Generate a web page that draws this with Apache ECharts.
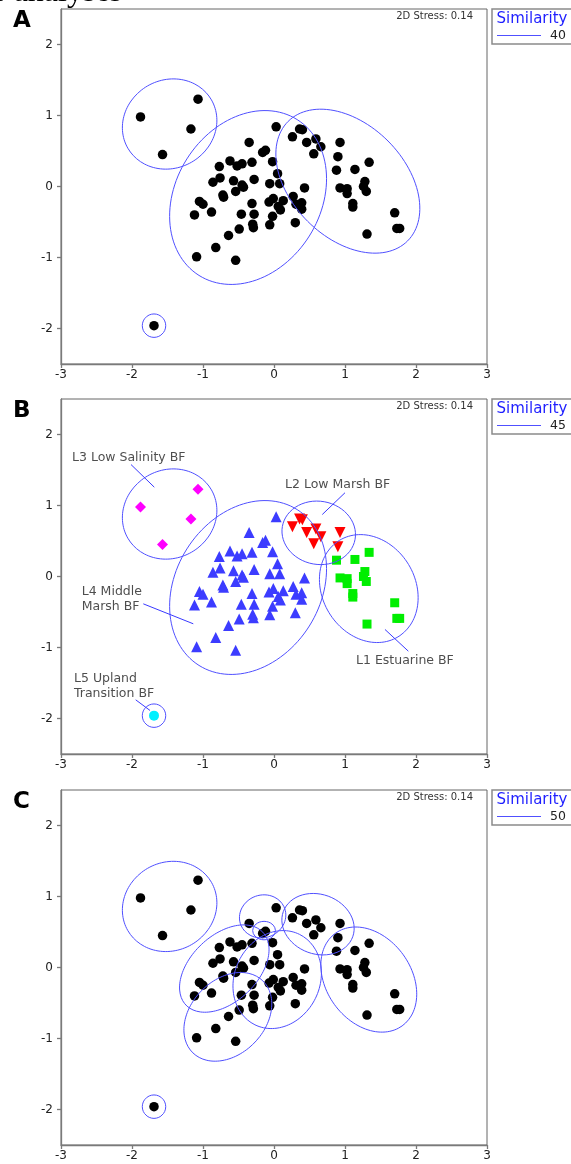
<!DOCTYPE html>
<html><head><meta charset="utf-8">
<script src="https://cdn.jsdelivr.net/npm/echarts@6/dist/echarts.min.js"></script>
<style>html,body{margin:0;padding:0;background:#fff;overflow:hidden}#c{width:571px;height:1164px;}</style>
</head><body><div id="c"></div>
<script>
// ---- data ----
const xTicks = [-3, -2, -1, 0, 1, 2, 3];
const yTicks = [-2, -1, 0, 1, 2];
const panelLetters = ['A', 'B', 'C'];
const similarityLevels = ['40', '45', '50'];
const stressText = '2D Stress: 0.14';

const l1Pts = [[0.88,0.23],[1.14,0.24],[1.34,0.34],[0.93,-0.02],[1.03,-0.03],[1.03,-0.10],[1.28,0.07],[1.26,0.00],[1.30,-0.07],[1.11,-0.24],[1.11,-0.29],[1.70,-0.37],[1.73,-0.59],[1.77,-0.59],[1.31,-0.67]];
const l2Pts = [[0.26,0.70],[0.36,0.81],[0.40,0.80],[0.46,0.62],[0.59,0.67],[0.66,0.56],[0.56,0.46],[0.93,0.62],[0.90,0.42]];
const l3Pts = [[-1.88,0.98],[-1.07,1.23],[-1.17,0.81],[-1.57,0.45]];
const l4Pts = [[0.03,0.84],[-0.35,0.62],[-0.16,0.48],[-0.12,0.51],[-0.02,0.35],
  [-0.77,0.28],[-0.62,0.36],[-0.52,0.29],[-0.45,0.32],[-0.31,0.34],
  [0.05,0.18],[-0.86,0.06],[-0.76,0.12],[-0.57,0.08],[-0.45,0.02],
  [-0.43,-0.01],[-0.54,-0.07],[-0.28,0.10],[-0.06,0.04],[0.08,0.04],
  [0.43,-0.02],[0.27,-0.14],[-0.72,-0.12],[-0.71,-0.15],[-1.05,-0.21],
  [-1.00,-0.25],[-0.88,-0.36],[-1.12,-0.40],[-0.31,-0.24],[-0.07,-0.22],
  [-0.01,-0.17],[0.06,-0.28],[0.09,-0.33],[0.13,-0.20],[0.31,-0.25],[0.39,-0.23],[0.39,-0.32],
  [-0.46,-0.39],[-0.28,-0.39],[-0.30,-0.53],[-0.29,-0.58],[-0.02,-0.42],[-0.06,-0.54],
  [-0.49,-0.60],[-0.64,-0.69],[0.30,-0.51],[-0.82,-0.86],[-1.09,-0.99],[-0.54,-1.04]];
const l5Pts = [[-1.69,-1.96]];

// similarity contours: [centerX, centerY, semiAxisA, semiAxisB, angleDeg]
const contoursA = [[-1.47,0.88,0.68,0.62,30],[-0.365,-0.155,1.297,1.019,57.8],[1.04,0.075,1.19,0.80,-45],[-1.69,-1.96,0.165,0.165,0]];
const contoursB = [[-1.47,0.88,0.68,0.62,30],[-0.365,-0.155,1.297,1.019,57.8],[0.63,0.615,0.52,0.445,-10],[1.335,-0.17,0.795,0.655,-58.9],[-1.69,-1.96,0.165,0.165,0]];
const contoursC = [[-1.47,0.86,0.68,0.62,30],[-0.16,0.72,0.33,0.30,20],[-0.14,0.52,0.16,0.13,0],[0.62,0.61,0.52,0.42,-20],[1.335,-0.17,0.804,0.598,-54.3],[-0.70,-0.015,0.746,0.468,43.4],[-0.65,-0.695,0.707,0.523,45.9],[0.045,-0.17,0.71,0.60,63.8],[-1.69,-1.96,0.165,0.165,0]];

const groupLabelsB = [
  {text:'L3 Low Salinity BF', at:[-2.845,1.67], leader:[[-2.014,1.577],[-1.686,1.258]]},
  {text:'L2 Low Marsh BF', at:[0.155,1.29], leader:[[1.0,1.18],[0.68,0.873]]},
  {text:'L4 Middle\nMarsh BF', at:[-2.708,-0.315], leader:[[-1.841,-0.385],[-1.137,-0.666]]},
  {text:'L1 Estuarine BF', at:[1.155,-1.183], leader:[[1.563,-0.746],[1.892,-1.052]]},
  {text:'L5 Upland\nTransition BF', at:[-2.817,-1.539], leader:[[-1.948,-1.737],[-1.746,-1.887]]}
];

// ---- layout / style ----
const FONT = 'DejaVu Sans';
const tops = [9, 399, 790];
const GL = 61, GW = 426, GH = 355;
const contourColor = '#5050ff';

function contourLine(c) {
  const [cx, cy, a, b, deg] = c;
  const th = deg * Math.PI / 180, pts = [];
  for (let i = 0; i <= 120; i++) {
    const t = i / 120 * 2 * Math.PI;
    const px = a * Math.cos(t), py = b * Math.sin(t);
    pts.push([cx + px * Math.cos(th) - py * Math.sin(th), cy + px * Math.sin(th) + py * Math.cos(th)]);
  }
  return pts;
}

const grids = [], xAxes = [], yAxes = [], series = [], graphics = [];
const allPts = [].concat(l1Pts, l2Pts, l3Pts, l4Pts, l5Pts);
const contourSets = [contoursA, contoursB, contoursC];

for (let g = 0; g < 3; g++) {
  grids.push({left: GL, top: tops[g], width: GW, height: GH, show: true, borderColor: '#666', borderWidth: 1, backgroundColor: 'transparent'});
  const axisStyle = {color: '#7a7a7a', width: 1.3};
  xAxes.push({gridIndex: g, type: 'value', min: -3, max: 3, interval: 1,
    axisLine: {show: true, onZero: false, lineStyle: axisStyle},
    axisTick: {show: true, length: 4, lineStyle: axisStyle},
    axisLabel: {color: '#222', fontFamily: FONT, fontSize: 12, margin: 5, customValues: xTicks},
    splitLine: {show: false}});
  yAxes.push({gridIndex: g, type: 'value', min: -2.5, max: 2.5,
    axisLine: {show: true, onZero: false, lineStyle: axisStyle},
    axisTick: {show: true, length: 4, lineStyle: axisStyle, customValues: yTicks},
    axisLabel: {color: '#222', fontFamily: FONT, fontSize: 12, margin: 8, customValues: yTicks},
    splitLine: {show: false}});

  if (g === 1) {
    const groups = [
      {d: l4Pts, sym: 'triangle', size: 11, color: '#3c3cff', rot: 0},
      {d: l2Pts, sym: 'triangle', size: 11, color: '#ff0000', rot: 180},
      {d: l1Pts, sym: 'rect', size: 9, color: '#00ee00', rot: 0},
      {d: l3Pts, sym: 'diamond', size: 11, color: '#ff00ff', rot: 0},
      {d: l5Pts, sym: 'circle', size: 10, color: '#00f0ff', rot: 0}
    ];
    groups.forEach(gr => series.push({type: 'scatter', xAxisIndex: g, yAxisIndex: g, data: gr.d,
      symbol: gr.sym, symbolSize: gr.size, symbolRotate: gr.rot, itemStyle: {color: gr.color, opacity: 1}, z: 3}));
  } else {
    series.push({type: 'scatter', xAxisIndex: g, yAxisIndex: g, data: allPts, symbol: 'circle', symbolSize: 9.5,
      itemStyle: {color: '#000', opacity: 1}, z: 3});
  }
  contourSets[g].forEach(c => series.push({type: 'line', xAxisIndex: g, yAxisIndex: g, data: contourLine(c),
    showSymbol: false, symbol: 'none', smooth: false, lineStyle: {color: contourColor, width: 1}, z: 4, silent: true}));

  // panel letter, stress text, legend box
  const t = tops[g];
  graphics.push({type: 'text', left: 13, top: t + 0.5, style: {text: panelLetters[g], font: 'bold 23px "DejaVu Sans"', fill: '#000'}});
  graphics.push({type: 'text', x: 473, y: t + 7.5, style: {text: stressText, font: '10px "DejaVu Sans"', fill: '#333', align: 'right', verticalAlign: 'middle'}});
  graphics.push({type: 'rect', shape: {x: 492, y: t, width: 100, height: 35}, style: {fill: '#fff', stroke: '#8a8a8a', lineWidth: 1.5}});
  graphics.push({type: 'text', x: 496.5, y: t + 10.5, style: {text: 'Similarity', font: '15px "DejaVu Sans"', fill: '#1f1fff', verticalAlign: 'middle'}});
  graphics.push({type: 'line', shape: {x1: 497, y1: t + 26.5, x2: 541, y2: t + 26.5}, style: {stroke: contourColor, lineWidth: 1}});
  graphics.push({type: 'text', x: 566, y: t + 27, style: {text: similarityLevels[g], font: '12.5px "DejaVu Sans"', fill: '#222', align: 'right', verticalAlign: 'middle'}});
}

// group labels in panel B
series.push({type: 'scatter', xAxisIndex: 1, yAxisIndex: 1, symbolSize: 0, silent: true, z: 5,
  data: groupLabelsB.map(l => ({value: l.at, label: {formatter: l.text}})),
  label: {show: true, position: 'right', distance: 0, color: '#222', fontFamily: FONT, fontSize: 12.5, lineHeight: 15, align: 'left'}});
groupLabelsB.forEach(l => series.push({type: 'line', xAxisIndex: 1, yAxisIndex: 1, data: l.leader, showSymbol: false, symbol: 'none',
  lineStyle: {color: '#3a3aff', width: 1}, z: 5, silent: true}));

// clipped heading text above panel A
graphics.push({type: 'text', x: -5, y: -7.5, style: {text: 'r analyses', font: '32px "Liberation Serif"', fill: '#000', verticalAlign: 'middle'}});

const chart = echarts.init(document.getElementById('c'), null, {renderer: 'canvas'});
chart.setOption({animation: false, backgroundColor: '#fff', grid: grids, xAxis: xAxes, yAxis: yAxes, series: series, graphic: graphics});
</script></body></html>
